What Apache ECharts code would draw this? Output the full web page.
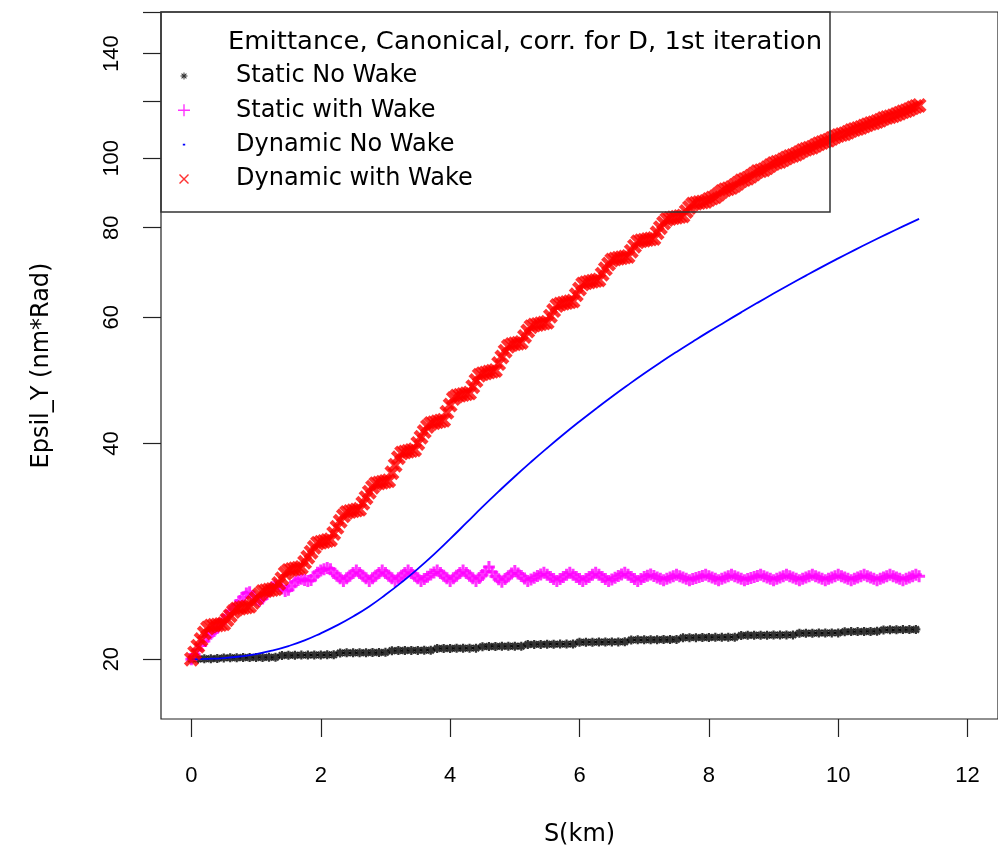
<!DOCTYPE html>
<html><head><meta charset="utf-8">
<script src="https://cdn.jsdelivr.net/npm/echarts@6.0.0/dist/echarts.min.js"></script>
<style>html,body{margin:0;padding:0;background:#fff}#main{width:998px;height:855px}</style>
</head><body><div id="main"></div>
<script>
// ---------- text ----------
const seriesNames = ['Static No Wake', 'Static with Wake', 'Dynamic No Wake', 'Dynamic with Wake'];
const legendTitle = 'Emittance, Canonical, corr. for D, 1st iteration';
const xAxisTitle = 'S(km)';
const yAxisTitle = 'Epsil_Y (nm*Rad)';

// ---------- ticks ----------
const xTickValues = [0, 2, 4, 6, 8, 10, 12];
const yTickValues = [20, 40, 60, 80, 100, 120, 140, 160];
const yLabelValues = [20, 40, 60, 80, 100, 140];

// ---------- sampling of S (km) ----------
const sFineStart = 0, sFineStep = 0.05;    // magenta & red: 0 .. 11.25
const sBlackStart = 0, sBlackStep = 0.1;   // black: 0 .. 11.2
const sBlueStart = 0, sBlueStep = 0.25;    // blue: 0 .. 11.25

// ---------- values (nm*Rad) ----------
const staticNoWake = [
  20.00, 20.01, 20.02, 20.03, 20.04, 20.08, 20.09, 20.09, 20.10, 20.10,
  20.11, 20.11, 20.12, 20.12, 20.24, 20.25, 20.25, 20.26, 20.26, 20.27,
  20.27, 20.28, 20.28, 20.40, 20.41, 20.41, 20.42, 20.42, 20.43, 20.43,
  20.44, 20.55, 20.56, 20.56, 20.57, 20.57, 20.58, 20.58, 20.69, 20.70,
  20.70, 20.71, 20.71, 20.72, 20.72, 20.82, 20.83, 20.83, 20.84, 20.84,
  20.85, 20.85, 20.96, 20.97, 20.97, 20.98, 20.98, 20.99, 20.99, 21.00,
  21.11, 21.12, 21.12, 21.13, 21.13, 21.14, 21.14, 21.15, 21.27, 21.28,
  21.28, 21.29, 21.29, 21.30, 21.30, 21.31, 21.42, 21.43, 21.43, 21.44,
  21.44, 21.45, 21.45, 21.46, 21.46, 21.58, 21.59, 21.59, 21.60, 21.60,
  21.61, 21.61, 21.62, 21.62, 21.73, 21.74, 21.74, 21.75, 21.75, 21.76,
  21.76, 21.84, 21.85, 21.85, 21.86, 21.86, 21.87, 21.97, 21.98, 21.98,
  21.99, 21.99, 22.00
];

const staticWithWake = [
  20.0, 20.3, 20.6, 20.9, 21.2, 21.5, 21.7, 21.9, 22.1, 22.4,
  22.7, 23.0, 23.3, 23.5, 23.8, 24.1, 24.4, 24.7, 24.8, 24.5,
  24.2, 24.1, 24.3, 24.6, 24.9, 25.2, 25.4, 25.3, 25.1, 24.9,
  25.0, 25.3, 25.6, 25.8, 25.9, 25.8, 25.7, 25.8, 26.1, 26.4,
  26.6, 26.7, 26.8, 26.7, 26.38, 26.15, 25.93, 25.70, 25.93, 26.15,
  26.38, 26.60, 26.38, 26.15, 25.93, 25.70, 25.93, 26.15, 26.38, 26.60,
  26.38, 26.15, 25.93, 25.70, 25.93, 26.15, 26.38, 26.60, 26.38, 26.15,
  25.93, 25.70, 25.88, 26.06, 26.24, 26.42, 26.60, 26.38, 26.15, 25.93,
  25.70, 25.93, 26.15, 26.38, 26.60, 26.38, 26.15, 25.93, 25.70, 25.95,
  26.20, 26.50, 26.90, 26.45, 26.10, 25.85, 25.65, 25.88, 26.10, 26.33,
  26.55, 26.34, 26.13, 25.91, 25.70, 25.84, 25.98, 26.12, 26.26, 26.40,
  26.23, 26.05, 25.88, 25.70, 25.88, 26.05, 26.23, 26.40, 26.23, 26.05,
  25.88, 25.70, 25.88, 26.05, 26.23, 26.40, 26.23, 26.05, 25.88, 25.70,
  25.84, 25.98, 26.12, 26.26, 26.40, 26.23, 26.05, 25.88, 25.70, 25.88,
  26.05, 26.15, 26.25, 26.12, 26.00, 25.89, 25.78, 25.89, 26.00, 26.11,
  26.22, 26.11, 26.00, 25.89, 25.78, 25.87, 25.96, 26.04, 26.13, 26.22,
  26.11, 26.00, 25.89, 25.78, 25.89, 26.00, 26.11, 26.22, 26.11, 26.00,
  25.89, 25.78, 25.87, 25.96, 26.04, 26.13, 26.22, 26.11, 26.00, 25.89,
  25.78, 25.89, 26.00, 26.11, 26.22, 26.11, 26.00, 25.89, 25.78, 25.89,
  26.00, 26.11, 26.22, 26.11, 26.00, 25.89, 25.78, 25.89, 26.00, 26.11,
  26.22, 26.11, 26.00, 25.89, 25.78, 25.89, 26.00, 26.11, 26.22, 26.11,
  26.00, 25.89, 25.78, 25.89, 26.00, 26.11, 26.22, 26.11, 26.00, 25.89,
  25.78, 25.89, 26.00, 26.11, 26.22, 26.10
];

const dynamicNoWake = [
  20.00, 20.02, 20.07, 20.17, 20.33, 20.56, 20.86, 21.24, 21.73, 22.29,
  22.94, 23.69, 24.59, 25.60, 26.73, 28.00, 29.43, 30.98, 32.62, 34.28,
  35.97, 37.68, 39.41, 41.16, 42.92, 44.69, 46.48, 48.27, 50.07, 51.87,
  53.67, 55.47, 57.29, 59.10, 60.95, 62.84, 64.74, 66.66, 68.59, 70.54,
  72.49, 74.45, 76.41, 78.37, 80.33, 82.29
];

const dynamicWithWake = [
  20.00, 20.40, 20.85, 21.30, 21.75, 22.10, 22.25, 22.30, 22.32, 22.35,
  22.40, 22.70, 23.00, 23.30, 23.50, 23.56, 23.60, 23.65, 23.70, 24.00,
  24.30, 24.60, 24.85, 24.92, 24.97, 25.02, 25.08, 25.50, 25.90, 26.35,
  26.60, 26.67, 26.73, 26.79, 26.85, 27.30, 27.75, 28.20, 28.65, 29.03,
  29.11, 29.19, 29.27, 29.35, 29.95, 30.55, 31.15, 31.70, 32.05, 32.13,
  32.21, 32.29, 32.37, 33.00, 33.60, 34.20, 34.75, 35.15, 35.23, 35.31,
  35.40, 35.48, 36.40, 37.30, 38.20, 38.80, 38.90, 39.00, 39.10, 39.20,
  40.00, 40.80, 41.55, 42.25, 42.65, 42.76, 42.87, 42.98, 43.10, 44.20,
  45.25, 46.20, 46.58, 46.69, 46.80, 46.91, 47.02, 48.00, 48.95, 49.80,
  50.05, 50.17, 50.30, 50.43, 50.56, 51.70, 52.80, 53.80, 54.65, 54.95,
  55.08, 55.21, 55.34, 56.40, 57.40, 58.20, 58.50, 58.63, 58.76, 58.89,
  59.02, 60.20, 61.30, 62.30, 62.60, 62.75, 62.90, 63.05, 63.20, 64.50,
  65.70, 66.75, 67.05, 67.20, 67.35, 67.50, 67.65, 68.90, 70.10, 71.20,
  72.10, 72.35, 72.50, 72.65, 72.80, 72.95, 74.20, 75.40, 76.45, 76.70,
  76.85, 77.00, 77.15, 77.30, 78.70, 80.00, 81.20, 82.15, 82.40, 82.57,
  82.74, 82.91, 83.08, 84.30, 85.40, 86.30, 86.55, 86.72, 86.89, 87.06,
  87.6, 88.0, 88.4, 89.1, 89.9, 90.4, 90.7, 91.0, 91.6, 92.3,
  93.0, 93.4, 93.8, 94.4, 95.1, 95.8, 96.1, 96.4, 97.0, 97.7,
  98.3, 98.7, 99.0, 99.5, 100.1, 100.6, 100.9, 101.3, 101.9, 102.5,
  102.9, 103.3, 103.6, 104.2, 104.8, 105.2, 105.6, 106.0, 106.6, 107.2,
  107.6, 107.9, 108.2, 108.7, 109.3, 109.7, 110.0, 110.4, 110.9, 111.4,
  111.8, 112.1, 112.5, 113.0, 113.6, 114.0, 114.3, 114.6, 115.1, 115.6,
  116.1, 116.5, 117.0, 117.6, 118.1, 118.5
];

// ---------- helpers ----------
function pairs(start, step, values) {
  return values.map((v, i) => [Math.round((start + i * step) * 1000) / 1000, v]);
}

// marker shapes (R pch '*', '+', 'x')
const SYM_STAR = 'path://M3.75,0H6.25V10H3.75Z M0,3.75H10V6.25H0Z M0.6,2.4L2.4,0.6L9.4,7.6L7.6,9.4Z M7.6,0.6L9.4,2.4L2.4,9.4L0.6,7.6Z';
const SYM_PLUS = 'path://M3.75,0H6.25V3.75H10V6.25H6.25V10H3.75V6.25H0V3.75H3.75Z';
const SYM_X = 'path://M0,2.1L2.1,0L10,7.9L7.9,10Z M7.9,0L10,2.1L2.1,10L0,7.9Z';
// legend icons in a 12x12 box (tiny corner specks fix the box)
const PAD = 'M0,0h0.01v0.01h-0.01z M11.99,11.99h0.01v0.01h-0.01z ';
const ICON_STAR = 'path://' + PAD + 'M5.51,2.5H6.49V9.5H5.51Z M2.5,5.51H9.5V6.49H2.5Z M3.2,3.9L3.9,3.2L8.8,8.1L8.1,8.8Z M8.1,3.2L8.8,3.9L3.9,8.8L3.2,8.1Z';
const ICON_PLUS = 'path://M5.3,0H6.7V5.3H12V6.7H6.7V12H5.3V6.7H0V5.3H5.3Z';
const ICON_DOT = 'path://' + PAD + 'M4.8,5.2H7.2V6.8H4.8Z';
const ICON_X = 'path://' + PAD + 'M1,2L2,1L11,10L10,11Z M10,1L11,2L2,11L1,10Z';

const colors = ['#000000', '#ff00ff', '#0000ff', '#ff0000'];
const tickFont = 'Liberation Sans';
const textFont = 'DejaVu Sans';

const chart = echarts.init(document.getElementById('main'), null, { renderer: 'canvas' });

chart.setOption({
  animation: false,
  backgroundColor: '#ffffff',
  grid: {
    left: 161, top: 12, width: 841, height: 707,
    show: true, borderColor: '#222', borderWidth: 1.2, backgroundColor: 'transparent'
  },
  xAxis: {
    type: 'value', min: -0.47, max: 12.47,
    splitLine: { show: false },
    axisLine: { show: false, onZero: false },
    axisTick: { show: true, length: 18, customValues: xTickValues, lineStyle: { color: '#222', width: 1.2 } },
    axisLabel: { customValues: xTickValues, margin: 46, fontSize: 22, fontFamily: tickFont, color: '#000' },
    name: xAxisTitle, nameLocation: 'middle', nameGap: 104,
    nameTextStyle: { fontSize: 24, fontFamily: textFont, color: '#000' }
  },
  yAxis: {
    type: 'log', logBase: 10, min: 16.5, max: 160,
    splitLine: { show: false },
    axisLine: { show: false, onZero: false },
    axisTick: { show: true, length: 18, customValues: yTickValues, lineStyle: { color: '#222', width: 1.2 } },
    axisLabel: { customValues: yLabelValues, rotate: 90, margin: 38, fontSize: 22, fontFamily: tickFont, color: '#000' },
    name: yAxisTitle, nameLocation: 'middle', nameGap: 107, nameRotate: 90,
    nameTextStyle: { fontSize: 24, fontFamily: textFont, color: '#000' }
  },
  legend: {
    orient: 'vertical', left: 178, top: 64, padding: 0,
    itemWidth: 94, itemHeight: 12, itemGap: 10.3,
    selectedMode: false,
    textStyle: { fontSize: 24, fontFamily: textFont, color: '#000' },
    data: [
      { name: seriesNames[0], icon: ICON_STAR },
      { name: seriesNames[1], icon: ICON_PLUS },
      { name: seriesNames[2], icon: ICON_DOT },
      { name: seriesNames[3], icon: ICON_X }
    ]
  },
  graphic: [
    { type: 'rect', z: 100, shape: { x: 161, y: 12, width: 669, height: 200 },
      style: { fill: 'none', stroke: '#333', lineWidth: 1.5 } },
    { type: 'text', z: 100, x: 228, y: 43, scaleX: 1.078,
      style: { text: legendTitle, fontSize: 24, fontFamily: textFont, fill: '#000', verticalAlign: 'middle' } }
  ],
  series: [
    {
      name: seriesNames[0], type: 'scatter', z: 2,
      data: pairs(sBlackStart, sBlackStep, staticNoWake),
      symbol: SYM_STAR, symbolSize: 9, itemStyle: { color: colors[0] }
    },
    {
      name: seriesNames[1], type: 'scatter', z: 3,
      data: pairs(sFineStart, sFineStep, staticWithWake),
      symbol: SYM_PLUS, symbolSize: 12, itemStyle: { color: colors[1] }
    },
    {
      name: seriesNames[2], type: 'line', z: 4, smooth: true, showSymbol: false,
      data: pairs(sBlueStart, sBlueStep, dynamicNoWake),
      itemStyle: { color: colors[2] }, lineStyle: { color: colors[2], width: 1.8 }
    },
    {
      name: seriesNames[3], type: 'scatter', z: 5,
      data: pairs(sFineStart, sFineStep, dynamicWithWake),
      symbol: SYM_X, symbolSize: 15, itemStyle: { color: colors[3] }
    }
  ]
});
</script>
</body></html>
